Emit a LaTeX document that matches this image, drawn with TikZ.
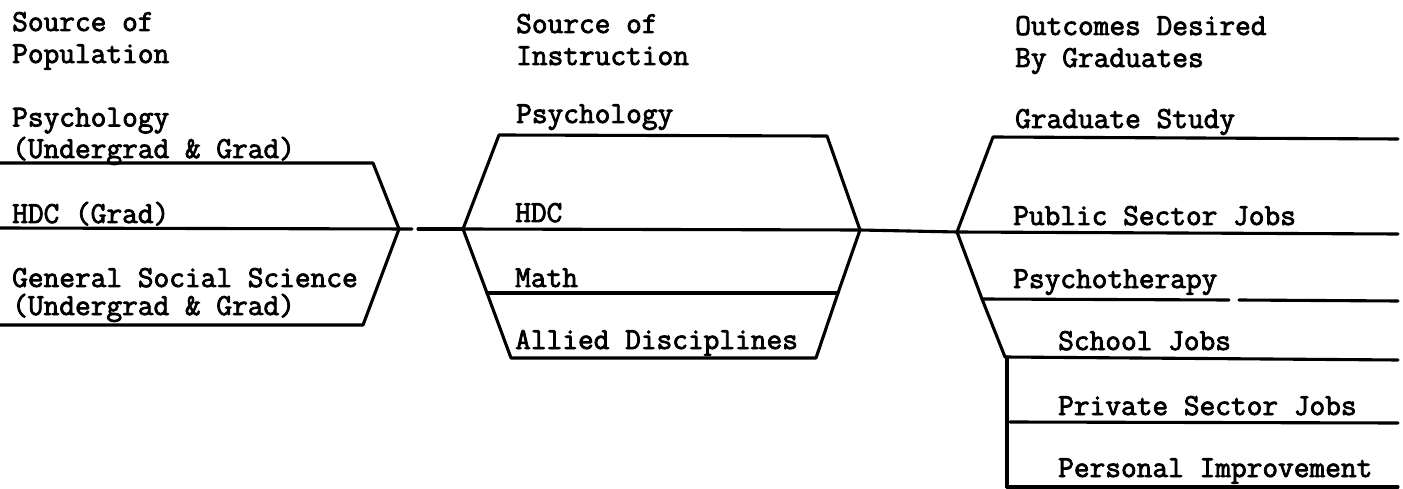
\documentclass[tikz,border=0pt]{standalone}
\usepackage{fontspec}
\newfontfamily\tw{Latin Modern Mono}[FakeBold=2.6]
\begin{document}
\begin{tikzpicture}[x=1pt,y=-1pt,
  lbl/.style={anchor=base west, inner sep=0pt, font=\tw\fontsize{30.5}{32}\selectfont},
  ln/.style={line width=3.1pt, line join=round, line cap=round}]
\useasboundingbox (0,0) rectangle (1403,489);

% ---- texts: left column
\node[lbl] (h1a) at (12,31) {Source of};
\node[lbl] (h1b) at (12,63) {Population};
\node[lbl] (p1a) at (12,126.5) {Psychology};
\node[lbl] (p1b) at (12,158) {(Undergrad \& Grad)};
\node[lbl] (p2)  at (12,223) {HDC (Grad)};
\node[lbl] (p3a) at (12,287) {General Social Science};
\node[lbl] (p3b) at (12,315) {(Undergrad \& Grad)};

% ---- texts: middle column
\node[lbl] (h2a) at (516,33) {Source of};
\node[lbl] (h2b) at (516,65) {Instruction};
\node[lbl] (i1)  at (516,123) {Psychology};
\node[lbl] (i2)  at (515,222) {HDC};
\node[lbl] (i3)  at (515,287) {Math};
\node[lbl] (i4)  at (515,349) {Allied Disciplines};

% ---- texts: right column
\node[lbl] (h3a) at (1015,35) {Outcomes Desired};
\node[lbl] (h3b) at (1015,67) {By Graduates};
\node[lbl] (o1)  at (1015,128) {Graduate Study};
\node[lbl] (o2)  at (1013,225) {Public Sector Jobs};
\node[lbl] (o3)  at (1013,288) {Psychotherapy};
\node[lbl] (o4)  at (1058,350) {School Jobs};
\node[lbl] (o5)  at (1058,415) {Private Sector Jobs};
\node[lbl] (o6)  at (1058,477) {Personal Improvement};

% ---- junction and corner points
\coordinate (LaS) at (0,163);   \coordinate (LaE) at (373,163);
\coordinate (J1)  at (399,229);
\coordinate (LbS) at (0,228);
\coordinate (LcS) at (0,325);   \coordinate (LcE) at (363,325);
\coordinate (G1)  at (412,229); \coordinate (G2)  at (418,229);
\coordinate (J2)  at (463,229);
\coordinate (MtL) at (499,135); \coordinate (MtR) at (827,136);
\coordinate (J3)  at (860,230);
\coordinate (MmL) at (487,293); \coordinate (MmR) at (838,293);
\coordinate (MbL) at (511,358); \coordinate (MbR) at (816,358);
\coordinate (J4)  at (957,232);
\coordinate (RgL) at (993,137); \coordinate (RgR) at (1398,139);
\coordinate (RpR) at (1398,234);
\coordinate (RyL) at (982,299); \coordinate (Ry1) at (1229,300);
\coordinate (Ry2) at (1239,300); \coordinate (RyR) at (1398,301);
\coordinate (RsL) at (1005,357); \coordinate (RsR) at (1398,360);
\coordinate (RvT) at (1007,357); \coordinate (RvB) at (1007,487);
\coordinate (RqL) at (1010,422); \coordinate (RqR) at (1398,423);
\coordinate (RnR) at (1398,487);

% ---- left funnel
\draw[ln] (LaS) -- (LaE) -- (J1);
\draw[ln] (LbS) -- (G1);
\draw[ln] (G2) -- (J2);
\draw[ln] (LcS) -- (LcE) -- (J1);

% ---- middle hexagon
\draw[ln] (J2) -- (MtL) -- (MtR) -- (J3);
\draw[ln] (J2) -- (J3);
\draw[ln] (J2) -- (MmL) -- (MbL) -- (MbR) -- (MmR) -- (J3);
\draw[ln] (MmL) -- (MmR);

% ---- right fan
\draw[ln] (J3) -- (J4);
\draw[ln] (J4) -- (RgL) -- (RgR);
\draw[ln] (J4) -- (RpR);
\draw[ln] (J4) -- (RyL) -- (RsL) -- (RsR);
\draw[ln] (RyL) -- (Ry1);
\draw[ln] (Ry2) -- (RyR);
\draw[ln] (RvT) -- (RvB);
\draw[ln] (RqL) -- (RqR);
\draw[ln] (RvB) -- (RnR);
\end{tikzpicture}
\end{document}
